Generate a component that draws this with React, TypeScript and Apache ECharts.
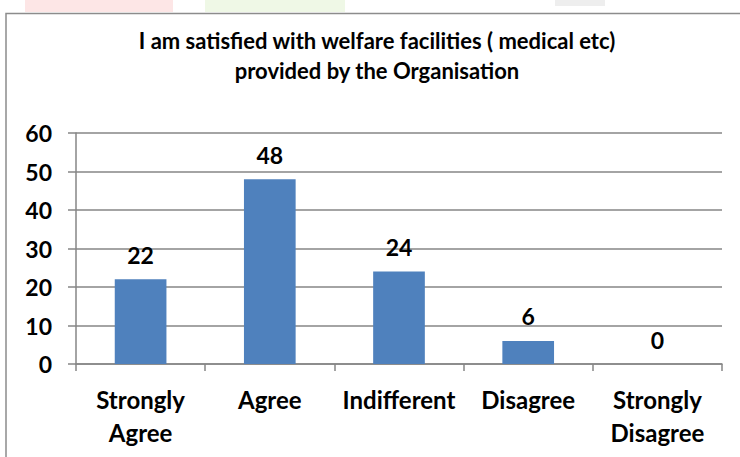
import React, { useEffect, useRef } from "react";
import * as echarts from "echarts";

const titleLines = ["I am satisfied with welfare facilities ( medical etc)", "provided by the Organisation"];
const categories = ["Strongly\nAgree", "Agree", "Indifferent", "Disagree", "Strongly\nDisagree"];
const values = [22, 48, 24, 6, 0];
const yTicks = { min: 0, max: 60, interval: 10 };

const FONT = "Lato, 'Open Sans', sans-serif";

export default function App() {
  const ref = useRef<HTMLDivElement>(null);
  useEffect(() => {
    document.body.style.margin = "0";
    const chart = echarts.init(ref.current!, null, { renderer: "svg" });
    chart.setOption({
      animation: false,
      backgroundColor: "#ffffff",
      title: {
        text: titleLines.join("\n"),
        left: 372,
        top: 20,
        textAlign: "center",
        textStyle: { fontFamily: FONT, fontWeight: "bold", fontSize: 22, color: "#000", lineHeight: 30 },
      },
      graphic: [
        { type: "rect", shape: { x: 25, y: 0, width: 148, height: 12 }, style: { fill: "#fde6e6" }, silent: true },
        { type: "rect", shape: { x: 205, y: 0, width: 140, height: 12 }, style: { fill: "#eff8e6" }, silent: true },
        { type: "rect", shape: { x: 555, y: 0, width: 50, height: 6 }, style: { fill: "#eeeeee" }, silent: true },
        {
          type: "rect",
          shape: { x: 6, y: 13.5, width: 760, height: 470 },
          style: { fill: "none", stroke: "#8c8c8c", lineWidth: 1.5 },
          silent: true,
          z: 100,
        },
      ],
      grid: { left: 76, right: 18, top: 133, bottom: 93 },
      xAxis: {
        type: "category",
        data: categories,
        axisLine: { lineStyle: { color: "#868686", width: 1.5 } },
        axisTick: { show: true, length: 7, lineStyle: { color: "#868686", width: 1.5 } },
        axisLabel: {
          fontFamily: FONT,
          fontWeight: "bold",
          fontSize: 24,
          color: "#000",
          lineHeight: 33,
          margin: 19,
          interval: 0,
        },
      },
      yAxis: {
        type: "value",
        min: yTicks.min,
        max: yTicks.max,
        interval: yTicks.interval,
        axisLine: { show: true, lineStyle: { color: "#868686", width: 1.5 } },
        axisTick: { show: true, length: 8, lineStyle: { color: "#868686", width: 1.5 } },
        splitLine: { show: true, lineStyle: { color: "#868686", width: 1.5 } },
        axisLabel: { fontFamily: FONT, fontWeight: "bold", fontSize: 23, color: "#000", margin: 24 },
      },
      series: [
        {
          type: "bar",
          data: values,
          barWidth: "40%",
          itemStyle: { color: "#4f81bd" },
          label: {
            show: true,
            position: "top",
            distance: 13,
            fontFamily: FONT,
            fontWeight: "bold",
            fontSize: 23,
            color: "#000",
          },
        },
      ],
    });
    return () => chart.dispose();
  }, []);
  return <div ref={ref} style={{ width: 740, height: 457 }} />;
}
